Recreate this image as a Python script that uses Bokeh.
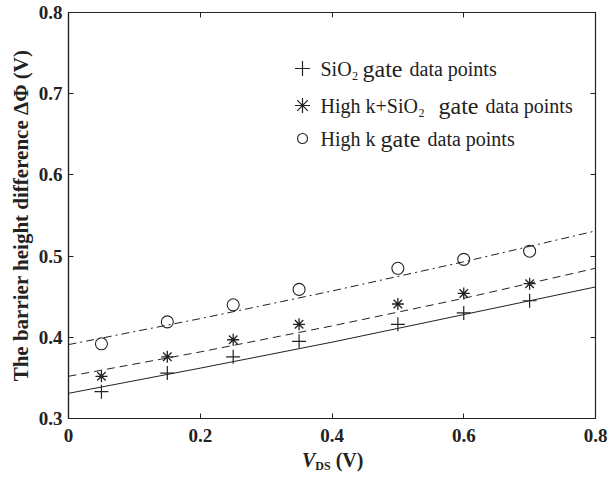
from bokeh.plotting import figure
from bokeh.models import Range1d, FixedTicker, LinearAxis, Label, Div
from bokeh.layouts import column
from bokeh.embed import file_html
from bokeh.resources import INLINE

# ---- data ----
vds = [0.05, 0.15, 0.25, 0.35, 0.5, 0.6, 0.7]
sio2 = [0.333, 0.356, 0.376, 0.395, 0.416, 0.430, 0.445]
highk_sio2 = [0.352, 0.376, 0.397, 0.416, 0.441, 0.454, 0.466]
highk = [0.392, 0.419, 0.440, 0.459, 0.485, 0.496, 0.506]

fit_x = [0.0, 0.2, 0.4, 0.6, 0.8]
fit_sio2 = [0.331, 0.362, 0.394, 0.428, 0.462]
fit_highk_sio2 = [0.352, 0.382, 0.414, 0.448, 0.485]
fit_highk = [0.391, 0.423, 0.457, 0.493, 0.531]

x_ticks = [0, 0.2, 0.4, 0.6, 0.8]
x_tick_labels = ["0", "0.2", "0.4", "0.6", "0.8"]
y_ticks = [0.3, 0.4, 0.5, 0.6, 0.7, 0.8]
y_tick_labels = ["0.3", "0.4", "0.5", "0.6", "0.7", "0.8"]

W, H = 611, 480
H2 = 30                      # strip below the plot holding the x-axis title
H1 = H - H2
FL, FR, FT, FB = 68, 595, 12, 418
X0, X1, Y0, Y1 = 0.0, 0.8, 0.3, 0.8

SERIF = "'Liberation Serif'"
INK = "#222222"

p = figure(width=W, height=H1, output_backend="svg", toolbar_location=None,
           x_range=Range1d(X0, X1), y_range=Range1d(Y0, Y1),
           min_border_left=FL, min_border_right=W - FR, min_border_top=FT,
           min_border_bottom=H1 - FB)
p.frame_width = FR - FL
p.frame_height = FB - FT
p.grid.visible = False
p.outline_line_color = INK
p.outline_line_width = 1.2
p.background_fill_color = "white"
p.border_fill_color = "white"


def sx(px):
    return X0 + (px - FL) / (FR - FL) * (X1 - X0)


def sy(py):
    return Y1 - (py - FT) / (FB - FT) * (Y1 - Y0)


for ax in (p.xaxis[0], p.yaxis[0]):
    ax.major_label_text_font = SERIF
    ax.major_label_text_font_style = "bold"
    ax.major_label_text_font_size = "19px"
    ax.major_label_text_color = INK
    ax.major_tick_in = 5
    ax.major_tick_out = 0
    ax.minor_tick_line_color = None
    ax.axis_line_color = INK
    ax.axis_line_width = 1.2
    ax.major_tick_line_color = INK

p.xaxis[0].ticker = FixedTicker(ticks=x_ticks)
p.xaxis[0].major_label_overrides = dict(zip(x_ticks, x_tick_labels))
p.xaxis[0].major_label_standoff = 10
p.yaxis[0].ticker = FixedTicker(ticks=y_ticks)
p.yaxis[0].major_label_overrides = dict(zip(y_ticks, y_tick_labels))
p.yaxis[0].major_label_standoff = 6

p.yaxis[0].axis_label = "The barrier height difference \u0394\u03a6 (V)"
p.yaxis[0].axis_label_text_font = SERIF
p.yaxis[0].axis_label_text_font_style = "bold"
p.yaxis[0].axis_label_text_font_size = "21px"
p.yaxis[0].axis_label_text_color = INK
p.yaxis[0].axis_label_standoff = 3

for side in ("right", "above"):
    a = LinearAxis(ticker=FixedTicker(ticks=y_ticks if side == "right" else x_ticks),
                   major_label_text_font_size="0px", major_tick_in=5, major_tick_out=0,
                   minor_tick_line_color=None, axis_line_color=None,
                   major_tick_line_color=INK)
    p.add_layout(a, side)

# fitted lines
p.line(fit_x, fit_sio2, line_color=INK, line_width=1)
p.line(fit_x, fit_highk_sio2, line_color=INK, line_width=1, line_dash="8 5")
p.line(fit_x, fit_highk, line_color=INK, line_width=1, line_dash="8 4 2 4")

# data points
p.scatter(vds, sio2, marker="cross", size=14, line_color=INK, line_width=1.2)
p.scatter(vds, highk_sio2, marker="asterisk", size=12, line_color=INK, line_width=1.3)
p.scatter(vds, highk, marker="circle", size=12, line_color=INK, fill_color=None, line_width=1.1)

# legend (manual, mixed fonts)
leg_markers = ["cross", "asterisk", "circle"]
leg_rows = [
    [("SiO\u2082", 20, 320), ("gate", 24, 362), ("data points", 20, 409)],
    [("High k+SiO\u2082", 20, 320), ("gate", 24, 438), ("data points", 20, 485)],
    [("High k", 20, 320), ("gate", 24, 380), ("data points", 20, 427)],
]
leg_y = [68, 105, 138]
leg_marker_x = 302
for mk, row, yy in zip(leg_markers, leg_rows, leg_y):
    if mk == "circle":
        p.scatter([sx(leg_marker_x)], [sy(yy)], marker=mk, size=10, line_color=INK,
                  fill_color=None, line_width=1.1)
    else:
        p.scatter([sx(leg_marker_x)], [sy(yy)], marker=mk, size=15, line_color=INK,
                  line_width=1.2)
    for txt, fs, xx in row:
        p.add_layout(Label(x=sx(xx), y=sy(yy), text=txt, text_font=SERIF,
                           text_font_size=f"{fs}px", text_color=INK,
                           text_align="left", text_baseline="middle"))

# x-axis title:  V_DS (V)
x_title_html = ("<span style=\"font-style:italic\">V</span>"
                "<span style=\"font-size:12px;position:relative;top:3px\">DS</span>"
                "&nbsp;(V)")
x_title = Div(text=x_title_html, width=W, height=H2,
              styles={"font-family": "'Liberation Serif', serif", "font-weight": "bold",
                      "font-size": "20px", "color": INK, "padding-left": "302px",
                      "line-height": "20px", "margin": "0", "white-space": "nowrap"})

layout = column(p, x_title, spacing=0)
open("out.html", "w").write(file_html(layout, INLINE))
